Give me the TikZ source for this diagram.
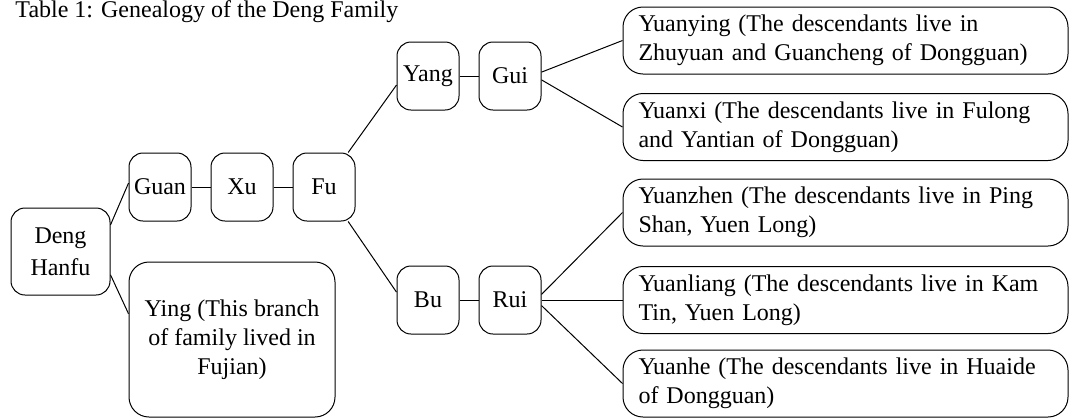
\documentclass[tikz,border=0pt]{standalone}
\usepackage{fontspec}
\setmainfont{Liberation Serif}
\usetikzlibrary{positioning}
\tikzset{
  person/.style={draw, rounded corners=7pt, minimum width=31pt, minimum height=34pt, inner sep=0pt},
  branch/.style={draw, rounded corners=10pt, minimum width=222.5pt, minimum height=33.5pt, text width=207pt, align=left, inner xsep=7.5pt, inner ysep=0pt},
}
\begin{document}
\begin{tikzpicture}[x=0.5pt, y=-0.5pt, node distance=9.5pt, font=\fontsize{12}{14.5}\selectfont, line width=0.5pt]
      \useasboundingbox (0,0) rectangle (1082,419);
      \node[anchor=base west, inner sep=0pt] (title) at (15,17) {Table 1: Genealogy of the Deng Family};
      \node[person, minimum width=49.5pt, minimum height=43.5pt, align=center] (deng) at (60.5,251.5) {Deng\\[1.5pt]Hanfu};
      \node[person] (guan) at (160,187) {Guan};
      \node[person, right=of guan] (xu) {Xu};
      \node[person, right=of xu] (fu) {Fu};
      \node[person, rounded corners=10pt, minimum width=103pt, minimum height=77.5pt, align=center] (ying) at (232,339.5) {Ying (This branch\\of family lived in\\Fujian)};
      \node[person] (yang) at (428,76) {Yang};
      \node[person, right=of yang] (gui) {Gui};
      \node[person] (bu) at (428,300) {Bu};
      \node[person, right=of bu] (rui) {Rui};
      \node[branch] (yuanying) at (845.5,40.5) {Yuanying (The descendants live in\\Zhuyuan and Guancheng of Dongguan)};
      \node[branch] (yuanxi) at (845.5,127) {Yuanxi (The descendants live in Fulong\\and Yantian of Dongguan)};
      \node[branch] (yuanzhen) at (845.5,212.5) {Yuanzhen (The descendants live in Ping\\Shan, Yuen Long)};
      \node[branch] (yuanliang) at (845.5,300) {Yuanliang (The descendants live in Kam\\Tin, Yuen Long)};
      \node[branch] (yuanhe) at (845.5,383.5) {Yuanhe (The descendants live in Huaide\\of Dongguan)};
      \draw (deng.28) -- (guan.173);
      \draw (deng.-25) -- (ying.166);
      \draw (guan) -- (xu);
      \draw (xu) -- (fu);
      \draw (fu.55) -- (yang.196);
      \draw (fu.-55) -- (bu.166);
      \draw (yang) -- (gui);
      \draw (bu) -- (rui);
      \draw (gui.7) -- (yuanying.west);
      \draw (gui.-7) -- (yuanxi.west);
      \draw (rui.10) -- (yuanzhen.west);
      \draw (rui.east) -- (yuanliang.west);
      \draw (rui.-10) -- (yuanhe.west);
    \end{tikzpicture}
\end{document}
